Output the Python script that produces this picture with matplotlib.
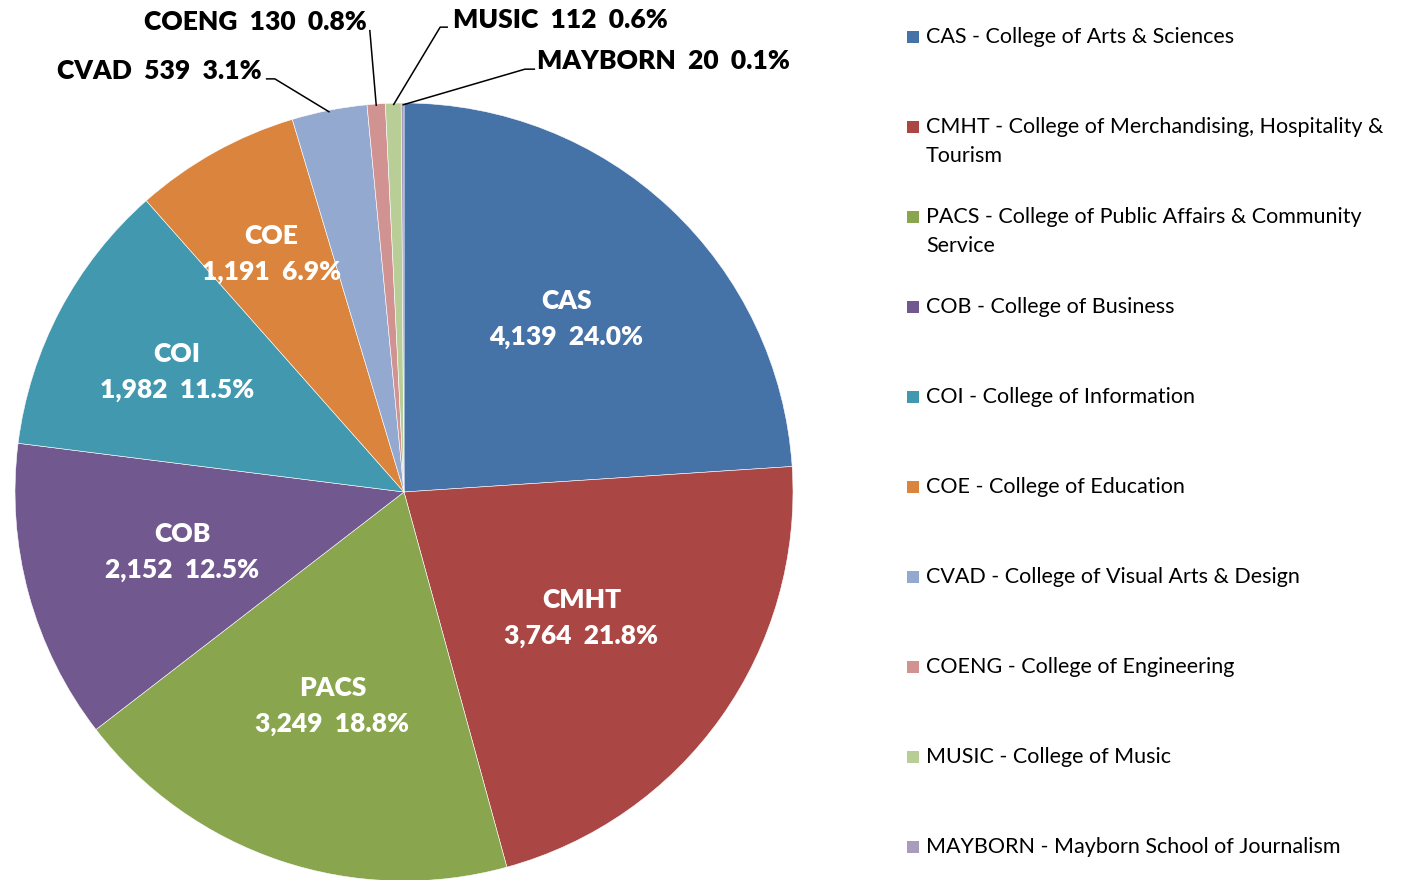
import matplotlib

matplotlib.use("Agg")
import matplotlib.pyplot as plt
import numpy as np
from matplotlib.patches import Rectangle

# ------------------------------------------------------------------ data

codes = ["CAS", "CMHT", "PACS", "COB", "COI", "COE", "CVAD", "COENG", "MUSIC", "MAYBORN"]
counts = [4139, 3764, 3249, 2152, 1982, 1191, 539, 130, 112, 20]
pct_labels = ["24.0%", "21.8%", "18.8%", "12.5%", "11.5%", "6.9%", "3.1%", "0.8%", "0.6%", "0.1%"]
legend_names = [
    "CAS - College of Arts & Sciences",
    "CMHT - College of Merchandising, Hospitality &\nTourism",
    "PACS - College of Public Affairs & Community\nService",
    "COB - College of Business",
    "COI - College of Information",
    "COE - College of Education",
    "CVAD - College of Visual Arts & Design",
    "COENG - College of Engineering",
    "MUSIC - College of Music",
    "MAYBORN - Mayborn School of Journalism",
]
colors = ["#4572A7", "#AA4643", "#89A54E", "#71588F", "#4198AF",
          "#DB843D", "#93A9CF", "#D19392", "#B9CD96", "#A99BBD"]

# inside labels: radius factor per slice (None -> outside label)
inside_r = [0.61, 0.56, 0.58, 0.59, 0.66, 0.70, None, None, None, None]
# outside labels: text anchor (data coords), ha, leader path points (before edge)
outside = {
    "CVAD": ((-0.365, 1.081), "right", [(-0.355, 1.062), (-0.332, 1.062)]),
    "COENG": ((-0.097, 1.208), "right", [(-0.088, 1.188)]),
    "MUSIC": ((0.125, 1.213), "left", [(0.113, 1.195), (0.093, 1.195)]),
    "MAYBORN": ((0.342, 1.108), "left", [(0.337, 1.087), (0.311, 1.087)]),
}

FONT = "Lato"
plt.rcParams["font.family"] = [FONT, "DejaVu Sans"]

W, H = 1412, 880
fig = plt.figure(figsize=(W / 100, H / 100), dpi=100)

cx, cy, R = 404, 492, 389
ax = fig.add_axes([(cx - R) / W, (H - cy - R) / H, 2 * R / W, 2 * R / H])
wedges, _ = ax.pie(counts, colors=colors, startangle=90, counterclock=False,
                   radius=1, wedgeprops=dict(edgecolor="white", linewidth=0.4))
ax.set_xlim(-1, 1)
ax.set_ylim(-1, 1)
ax.set_aspect("equal")
ax.axis("off")

for i, w in enumerate(wedges):
    mid = np.deg2rad((w.theta1 + w.theta2) / 2)
    txt = f"{counts[i]:,}  {pct_labels[i]}"
    if inside_r[i] is not None:
        r = inside_r[i]
        ax.text(r * np.cos(mid), r * np.sin(mid), f"{codes[i]}\n{txt}",
                ha="center", va="center", color="white", fontsize=19,
                fontweight="heavy", linespacing=1.6)
    else:
        pos, ha, path = outside[codes[i]]
        ax.text(pos[0], pos[1], f"{codes[i]}  {txt}", ha=ha, va="center",
                color="black", fontsize=19, fontweight="heavy", clip_on=False)
        edge = (np.cos(mid) * 0.995, np.sin(mid) * 0.995)
        pts = path + [edge]
        ax.plot([p[0] for p in pts], [p[1] for p in pts], color="black",
                lw=1.1, clip_on=False, solid_capstyle="butt")

# ------------------------------------------------------------------ legend
lx, y0, step = 907, 37, 90
for i, name in enumerate(legend_names):
    y = y0 + i * step
    fig.patches.append(Rectangle((lx / W, (H - y - 6) / H), 12 / W, 12 / H,
                                 transform=fig.transFigure, facecolor=colors[i],
                                 edgecolor="none"))
    for j, line in enumerate(name.split("\n")):
        fig.text(926 / W, (H - y - j * 29) / H, line, ha="left", va="center",
                 fontsize=15.5, color="black")

fig.savefig("out.png", dpi=100)
